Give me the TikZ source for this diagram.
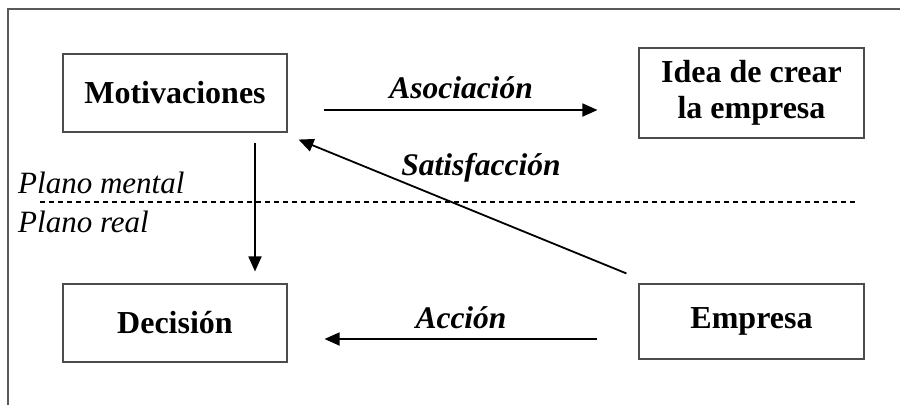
\documentclass[tikz,border=0pt]{standalone}
\usepackage{fontspec}
\setmainfont{Liberation Serif}
\usetikzlibrary{arrows.meta}
\begin{document}
\begin{tikzpicture}[x=1pt,y=1pt,
  box/.style={draw=black!70, line width=1.1pt, inner sep=0pt, align=center,
    font=\fontsize{32}{36}\selectfont\bfseries},
  arr/.style={line width=1.8pt, -{Triangle[length=15pt,width=13pt]}},
  lbl/.style={anchor=base, inner sep=0pt, font=\fontsize{31.5}{36}\selectfont\bfseries\itshape},
  plano/.style={anchor=base west, inner sep=0pt, font=\fontsize{31}{36}\selectfont\itshape},
  frame/.style={draw=black!65, line width=1.1pt}]
\useasboundingbox (0,0) rectangle (900,-405);
\draw[frame] (900,-9) -- (8,-9) -- (8,-405);
\node[box, minimum width=224pt, minimum height=78pt] (mot) at (175,-93) {Motivaciones};
\node[box, minimum width=225pt, minimum height=90pt] (idea) at (751.5,-93) {Idea de crear\\la empresa};
\node[box, minimum width=224pt, minimum height=78pt] (dec) at (175,-323) {Decisión};
\node[box, minimum width=225pt, minimum height=75pt] (emp) at (751.5,-321.5) {Empresa};
\node[plano] (pm) at (18,-193) {Plano mental};
\node[plano] (pr) at (18,-232) {Plano real};
\coordinate (dl) at (40,-202);
\coordinate (dr) at (857,-202);
\draw[line width=1.6pt, dash pattern=on 4.5pt off 4.5pt] (dl) -- (dr);
\draw[arr, shorten <=36pt, shorten >=41pt] ([yshift=-17pt]mot.east) -- ([yshift=-17pt]idea.west);
\draw[arr, shorten <=10pt, shorten >=12pt] ([xshift=80pt]mot.south) -- ([xshift=80pt]dec.north);
\draw[arr, shorten <=41pt, shorten >=37pt] ([yshift=-17.5pt]emp.west) -- ([yshift=-16pt]dec.east);
\draw[arr] ([shift={(-12pt,10pt)}]emp.north west) -- ([shift={(11pt,-7pt)}]mot.south east);
\node[lbl] (la) at (461,-98) {Asociación};
\node[lbl] (ls) at (481,-175) {Satisfacción};
\node[lbl] (lc) at (461,-328) {Acción};
\end{tikzpicture}
\end{document}
